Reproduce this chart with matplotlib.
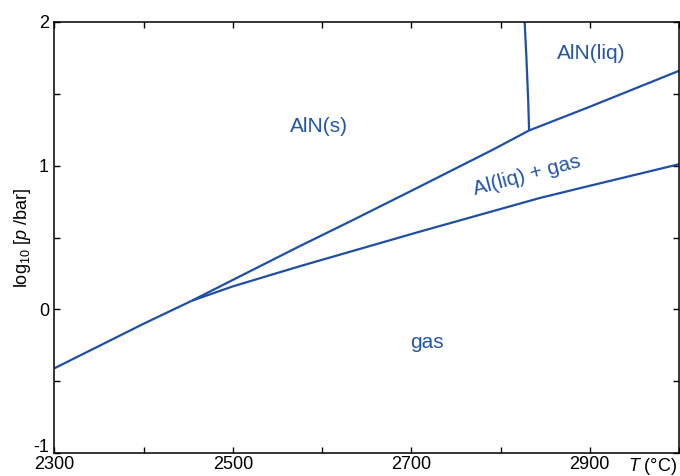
import matplotlib
matplotlib.use("Agg")
import matplotlib.pyplot as plt
from matplotlib.ticker import MultipleLocator
from matplotlib.transforms import ScaledTranslation

plt.rcParams["font.family"] = ["Liberation Sans", "DejaVu Sans"]
plt.rcParams["mathtext.fontset"] = "custom"
plt.rcParams["mathtext.rm"] = "Liberation Sans"
plt.rcParams["mathtext.it"] = "Liberation Sans:italic"
plt.rcParams["axes.unicode_minus"] = False

# --- data (T in °C, log10 p/bar) ---
# AlN(s) / gas boundary (below the three-phase point)
T_sg = [2300, 2350, 2400, 2454]
p_sg = [-0.41, -0.255, -0.10, 0.06]

# AlN(s) / Al(liq)+gas boundary
T_sl = [2454, 2500, 2575, 2634, 2700, 2791, 2832]
p_sl = [0.06, 0.205, 0.44, 0.62, 0.825, 1.11, 1.245]

# AlN(liq) / Al(liq)+gas boundary
T_ll = [2832, 2900, 3000]
p_ll = [1.245, 1.41, 1.66]

# Al(liq)+gas / gas boundary
T_lg = [2454, 2500, 2575, 2709, 2844, 2900, 3000]
p_lg = [0.06, 0.16, 0.30, 0.54, 0.775, 0.86, 1.01]

# melting line AlN(s) / AlN(liq)
T_melt = [2827, 2829, 2831, 2832]
p_melt = [2.0, 1.75, 1.45, 1.245]

line_col = "#1f4fa3"
text_col = "#2456a8"

fig = plt.figure(figsize=(6.8, 4.76), dpi=100)
ax = fig.add_axes([0.0801, 0.0483, 0.9184, 0.9055])

for T, p in [(T_sg, p_sg), (T_sl, p_sl), (T_ll, p_ll), (T_lg, p_lg), (T_melt, p_melt)]:
    ax.plot(T, p, color=line_col, lw=1.6, solid_capstyle="butt", solid_joinstyle="round")

# region labels
ax.text(2596, 1.27, "AlN(s)", color=text_col, fontsize=15, ha="center", va="center")
ax.text(2902, 1.78, "AlN(liq)", color=text_col, fontsize=15, ha="center", va="center")
ax.text(2829, 0.93, "Al(liq) + gas", color=text_col, fontsize=15, ha="center", va="center",
        rotation=15, rotation_mode="anchor")
ax.text(2717, -0.23, "gas", color=text_col, fontsize=15, ha="center", va="center")

ax.set_xlim(2300, 3000)
ax.set_ylim(-1, 2)
ax.set_xticks([2300, 2500, 2700, 2900])
ax.xaxis.set_minor_locator(MultipleLocator(100))
ax.set_yticks([-1, 0, 1, 2])
ax.yaxis.set_minor_locator(MultipleLocator(0.5))
ax.tick_params(which="both", direction="in", top=True, right=True, length=4, width=1,
               labelsize=13)
ax.tick_params(axis="x", pad=2.5)
ax.tick_params(axis="y", pad=4)
for s in ax.spines.values():
    s.set_linewidth(1.1)

# lift the "-1" label a little so it sits above "2300"
lab = ax.get_yticklabels()[0]
lab.set_transform(lab.get_transform() + ScaledTranslation(0, 5.5 / 72, fig.dpi_scale_trans))

ax.set_ylabel(r"log$_{10}$ [$p$ /bar]", fontsize=13)
ax.yaxis.set_label_coords(-0.035, 0.5)
ax.annotate(r"$T$ (°C)", xy=(1, 0), xycoords="axes fraction", xytext=(-1, -2.5),
            textcoords="offset points", ha="right", va="top", fontsize=13)

fig.savefig("out.png", dpi=100)
